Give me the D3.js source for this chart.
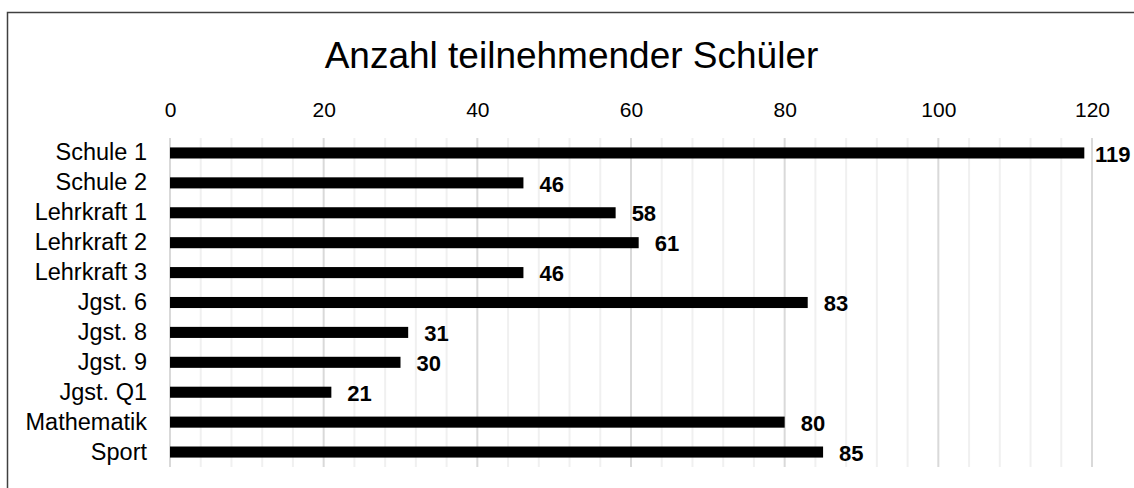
<!DOCTYPE html>
<html>
<head>
<meta charset="utf-8">
<script src="https://cdn.jsdelivr.net/npm/d3@7"></script>
<style>
  html, body { margin: 0; padding: 0; background: #fff; }
  svg { display: block; font-family: "Liberation Sans", Arial, sans-serif; }
</style>
</head>
<body>
<svg id="chart"></svg>
<script>
const categories = ["Schule 1", "Schule 2", "Lehrkraft 1", "Lehrkraft 2", "Lehrkraft 3",
  "Jgst. 6", "Jgst. 8", "Jgst. 9", "Jgst. Q1", "Mathematik", "Sport"]
const values = [119, 46, 58, 61, 46, 83, 31, 30, 21, 80, 85]
const tickValues = [0, 20, 40, 60, 80, 100, 120]
const title = "Anzahl teilnehmender Schüler"

const width = 1134
const height = 488

const svg = d3.select("#chart")
  .attr("width", width)
  .attr("height", height)

// outer frame, right and bottom edges cut off like in the source
svg.append("rect")
  .attr("x", 7.5)
  .attr("y", 12.5)
  .attr("width", width + 10)
  .attr("height", height + 10)
  .attr("fill", "#fff")
  .attr("stroke", "#404040")
  .attr("stroke-width", 1.5)

const x = d3.scaleLinear().domain([0, 120]).range([170, 1092])
const y = d3.scaleBand().domain(categories).range([138, 467])
  .paddingInner(0.63)
  .paddingOuter(0.315)

const gridTop = 138
const gridBottom = 467

// minor gridlines every 4
const minor = d3.range(0, 121, 4).filter(d => d % 20 !== 0)
svg.append("g")
  .selectAll("line")
  .data(minor)
  .join("line")
  .attr("x1", d => x(d))
  .attr("x2", d => x(d))
  .attr("y1", gridTop)
  .attr("y2", gridBottom)
  .attr("stroke", "#f0f0f0")
  .attr("stroke-width", 2)

svg.append("g")
  .selectAll("line")
  .data(tickValues)
  .join("line")
  .attr("x1", d => x(d))
  .attr("x2", d => x(d))
  .attr("y1", gridTop)
  .attr("y2", gridBottom)
  .attr("stroke", "#d9d9d9")
  .attr("stroke-width", 2)

// top axis labels
const axis = svg.append("g")
  .attr("transform", "translate(0,117)")
  .call(d3.axisTop(x).tickValues(tickValues).tickSize(0).tickPadding(0))
axis.select(".domain").remove()
axis.selectAll("text")
  .attr("font-size", 21)
  .attr("font-family", "Liberation Sans, Arial, sans-serif")
  .attr("fill", "#000")

// category labels
const left = svg.append("g")
  .attr("transform", "translate(147,0)")
  .call(d3.axisLeft(y).tickSize(0).tickPadding(0))
left.select(".domain").remove()
left.selectAll("text")
  .attr("font-size", 23.5)
  .attr("font-family", "Liberation Sans, Arial, sans-serif")
  .attr("fill", "#000")

// bars
svg.append("g")
  .selectAll("rect")
  .data(values)
  .join("rect")
  .attr("x", x(0))
  .attr("y", (d, i) => y(categories[i]))
  .attr("width", d => x(d) - x(0))
  .attr("height", y.bandwidth())
  .attr("fill", "#000")

// value labels
svg.append("g")
  .selectAll("text")
  .data(values)
  .join("text")
  .attr("x", d => Math.min(x(d) + 16, 1095))
  .attr("y", (d, i) => y(categories[i]) + y.bandwidth() / 2 + 1)
  .attr("dy", "0.35em")
  .attr("font-size", 22)
  .attr("font-weight", "bold")
  .attr("fill", "#000")
  .text(d => d)

svg.append("text")
  .attr("x", 571.5)
  .attr("y", 68)
  .attr("text-anchor", "middle")
  .attr("font-size", 37)
  .attr("fill", "#000")
  .text(title)
</script>
</body>
</html>
